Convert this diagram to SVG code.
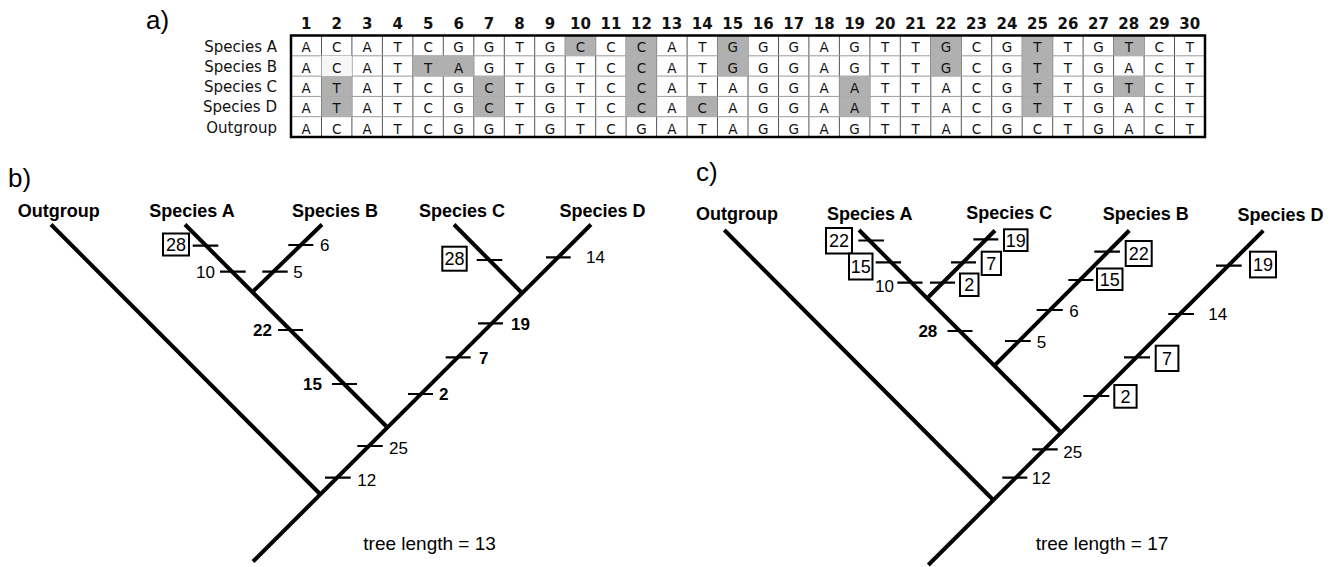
<svg xmlns="http://www.w3.org/2000/svg" width="1336" height="567" viewBox="0 0 1336 567">
<style>
.panel{font-family:"Liberation Sans",Arial,sans-serif;font-size:26px;fill:#000}
.colnum{font-family:"DejaVu Sans",sans-serif;font-size:15px;font-weight:bold;text-anchor:middle;fill:#111}
.cell{font-family:"DejaVu Sans",sans-serif;font-size:13.5px;text-anchor:middle;fill:#111}
.rowlab{font-family:"DejaVu Sans",sans-serif;font-size:15px;text-anchor:end;fill:#111}
.vline{stroke:#555;stroke-width:1}
.hline{stroke:#999;stroke-width:1}
.shade{fill:#b0b0b0}
.br{stroke:#000;stroke-width:4;fill:none;stroke-linecap:butt}
.tk{stroke:#000;stroke-width:2.2}
.sp{font-family:"Liberation Sans",Arial,sans-serif;font-size:18px;font-weight:bold;text-anchor:middle;fill:#000}
.n{font-family:"Liberation Sans",Arial,sans-serif;font-size:17px;fill:#000}
.nb{font-family:"Liberation Sans",Arial,sans-serif;font-size:17px;font-weight:bold;fill:#000}
.bx{fill:#fff;stroke:#000;stroke-width:2}
.bn{font-family:"Liberation Sans",Arial,sans-serif;font-size:18px;text-anchor:middle;fill:#000}
.tl{font-family:"Liberation Sans",Arial,sans-serif;font-size:19px;fill:#000}
</style>
<rect width="1336" height="567" fill="#fff"/>

<!-- Panel a: alignment table -->
<g id="panel-a">
<text class="panel" x="146" y="29">a)</text>
<g id="column-numbers">
<text class="colnum" x="306.2" y="29">1</text>
<text class="colnum" x="336.7" y="29">2</text>
<text class="colnum" x="367.2" y="29">3</text>
<text class="colnum" x="397.6" y="29">4</text>
<text class="colnum" x="428.1" y="29">5</text>
<text class="colnum" x="458.6" y="29">6</text>
<text class="colnum" x="489.0" y="29">7</text>
<text class="colnum" x="519.5" y="29">8</text>
<text class="colnum" x="550.0" y="29">9</text>
<text class="colnum" x="580.4" y="29">10</text>
<text class="colnum" x="610.9" y="29">11</text>
<text class="colnum" x="641.4" y="29">12</text>
<text class="colnum" x="671.8" y="29">13</text>
<text class="colnum" x="702.3" y="29">14</text>
<text class="colnum" x="732.8" y="29">15</text>
<text class="colnum" x="763.2" y="29">16</text>
<text class="colnum" x="793.7" y="29">17</text>
<text class="colnum" x="824.2" y="29">18</text>
<text class="colnum" x="854.6" y="29">19</text>
<text class="colnum" x="885.1" y="29">20</text>
<text class="colnum" x="915.6" y="29">21</text>
<text class="colnum" x="946.0" y="29">22</text>
<text class="colnum" x="976.5" y="29">23</text>
<text class="colnum" x="1007.0" y="29">24</text>
<text class="colnum" x="1037.4" y="29">25</text>
<text class="colnum" x="1067.9" y="29">26</text>
<text class="colnum" x="1098.4" y="29">27</text>
<text class="colnum" x="1128.8" y="29">28</text>
<text class="colnum" x="1159.3" y="29">29</text>
<text class="colnum" x="1189.8" y="29">30</text>
</g>
<g id="row-labels">
<text class="rowlab" x="277" y="51.5">Species A</text>
<text class="rowlab" x="277" y="71.8">Species B</text>
<text class="rowlab" x="277" y="92.1">Species C</text>
<text class="rowlab" x="277" y="112.4">Species D</text>
<text class="rowlab" x="277" y="132.7">Outgroup</text>
</g>
<g id="grid">
<path class="vline" d="M321.5 35.5V137M351.9 35.5V137M382.4 35.5V137M412.9 35.5V137M443.3 35.5V137M473.8 35.5V137M504.3 35.5V137M534.7 35.5V137M565.2 35.5V137M595.7 35.5V137M626.1 35.5V137M656.6 35.5V137M687.1 35.5V137M717.5 35.5V137M748 35.5V137M778.5 35.5V137M808.9 35.5V137M839.4 35.5V137M869.9 35.5V137M900.3 35.5V137M930.8 35.5V137M961.3 35.5V137M991.7 35.5V137M1022.2 35.5V137M1052.7 35.5V137M1083.1 35.5V137M1113.6 35.5V137M1144.1 35.5V137M1174.5 35.5V137"/>
<path class="hline" d="M291 55.8H1205M291 76.1H1205M291 96.4H1205M291 116.7H1205"/>
</g>
<g id="shading">
<!-- Species A -->
<rect class="shade" x="565.2" y="35.5" width="30.5" height="20.3"/>
<rect class="shade" x="626.1" y="35.5" width="30.5" height="20.3"/>
<rect class="shade" x="717.5" y="35.5" width="30.5" height="20.3"/>
<rect class="shade" x="930.8" y="35.5" width="30.5" height="20.3"/>
<rect class="shade" x="1022.2" y="35.5" width="30.5" height="20.3"/>
<rect class="shade" x="1113.6" y="35.5" width="30.5" height="20.3"/>
<!-- Species B -->
<rect x="321.5" y="55.8" width="30.4" height="20.3" fill="#f6f6f6"/>
<rect class="shade" x="412.9" y="55.8" width="60.9" height="20.3"/>
<rect class="shade" x="626.1" y="55.8" width="30.5" height="20.3"/>
<rect class="shade" x="717.5" y="55.8" width="30.5" height="20.3"/>
<rect class="shade" x="930.8" y="55.8" width="30.5" height="20.3"/>
<rect class="shade" x="1022.2" y="55.8" width="30.5" height="20.3"/>
<!-- Species C -->
<rect class="shade" x="321.5" y="76.1" width="30.4" height="20.3"/>
<rect class="shade" x="473.8" y="76.1" width="30.5" height="20.3"/>
<rect class="shade" x="626.1" y="76.1" width="30.5" height="20.3"/>
<rect class="shade" x="839.4" y="76.1" width="30.5" height="20.3"/>
<rect class="shade" x="1022.2" y="76.1" width="30.5" height="20.3"/>
<rect class="shade" x="1113.6" y="76.1" width="30.5" height="20.3"/>
<!-- Species D -->
<rect class="shade" x="321.5" y="96.4" width="30.4" height="20.3"/>
<rect class="shade" x="473.8" y="96.4" width="30.5" height="20.3"/>
<rect class="shade" x="626.1" y="96.4" width="30.5" height="20.3"/>
<rect class="shade" x="687.1" y="96.4" width="30.4" height="20.3"/>
<rect class="shade" x="839.4" y="96.4" width="30.5" height="20.3"/>
<rect class="shade" x="1022.2" y="96.4" width="30.5" height="20.3"/>
</g>
<rect x="291" y="35.5" width="914" height="101.5" fill="none" stroke="#000" stroke-width="2.5"/>
<g id="sequences">
<text class="cell" x="306.2 336.7 367.2 397.6 428.1 458.6 489.0 519.5 550.0 580.4 610.9 641.4 671.8 702.3 732.8 763.2 793.7 824.2 854.6 885.1 915.6 946.0 976.5 1007.0 1037.4 1067.9 1098.4 1128.8 1159.3 1189.8" y="52.3">ACATCGGTGCCCATGGGAGTTGCGTTGTCT</text>
<text class="cell" x="306.2 336.7 367.2 397.6 428.1 458.6 489.0 519.5 550.0 580.4 610.9 641.4 671.8 702.3 732.8 763.2 793.7 824.2 854.6 885.1 915.6 946.0 976.5 1007.0 1037.4 1067.9 1098.4 1128.8 1159.3 1189.8" y="72.6">ACATTAGTGTCCATGGGAGTTGCGTTGACT</text>
<text class="cell" x="306.2 336.7 367.2 397.6 428.1 458.6 489.0 519.5 550.0 580.4 610.9 641.4 671.8 702.3 732.8 763.2 793.7 824.2 854.6 885.1 915.6 946.0 976.5 1007.0 1037.4 1067.9 1098.4 1128.8 1159.3 1189.8" y="92.9">ATATCGCTGTCCATAGGAATTACGTTGTCT</text>
<text class="cell" x="306.2 336.7 367.2 397.6 428.1 458.6 489.0 519.5 550.0 580.4 610.9 641.4 671.8 702.3 732.8 763.2 793.7 824.2 854.6 885.1 915.6 946.0 976.5 1007.0 1037.4 1067.9 1098.4 1128.8 1159.3 1189.8" y="113.2">ATATCGCTGTCCACAGGAATTACGTTGACT</text>
<text class="cell" x="306.2 336.7 367.2 397.6 428.1 458.6 489.0 519.5 550.0 580.4 610.9 641.4 671.8 702.3 732.8 763.2 793.7 824.2 854.6 885.1 915.6 946.0 976.5 1007.0 1037.4 1067.9 1098.4 1128.8 1159.3 1189.8" y="133.5">ACATCGGTGTCGATAGGAGTTACGCTGACT</text>
</g>
</g>

<!-- Panel b -->
<g id="panel-b">
<text class="panel" x="8" y="187">b)</text>
<g id="b-connectors">
<path class="br" d="M253 561.5L591 224.5"/>
<path class="br" d="M51 224.5L320 494"/>
<path class="br" d="M387 427L185 224.5"/>
<path class="br" d="M252.5 292L322 224.5"/>
<path class="br" d="M521.5 292.5L454 224.5"/>
</g>
<g id="b-outgroup"><text class="sp" x="58.7" y="216.5">Outgroup</text></g>
<g id="b-species-a"><text class="sp" x="192" y="216.5">Species A</text></g>
<g id="b-species-b"><text class="sp" x="335" y="216.5">Species B</text></g>
<g id="b-species-c"><text class="sp" x="462" y="216.5">Species C</text></g>
<g id="b-species-d"><text class="sp" x="602.5" y="216.5">Species D</text></g>
<g id="b-changes">
<path class="tk" d="M192.7 245.7H218.3M220 271.7H245.7M288.3 245H313.3M262.3 271.7H287.7M278 330H303M332 384H357M408 394H433M445.7 357.3H470.7M478 323.3H503M476.7 260H502.3M546 257.3H570.7M357.3 446H382.7M325 477.7H350.7"/>
<rect class="bx" x="163" y="233.5" width="26" height="22"/>
<text class="bn" x="176" y="251">28</text>
<text class="n" x="215" y="277.5" text-anchor="end">10</text>
<text class="n" x="320" y="251">6</text>
<text class="n" x="293.3" y="278">5</text>
<text class="nb" x="272" y="336" text-anchor="end">22</text>
<text class="nb" x="303" y="390">15</text>
<text class="nb" x="439" y="400">2</text>
<text class="nb" x="479" y="363.5">7</text>
<text class="nb" x="511" y="329.5">19</text>
<rect class="bx" x="442.3" y="246.7" width="24.4" height="24"/>
<text class="bn" x="454.5" y="265">28</text>
<text class="n" x="586" y="262.5">14</text>
<text class="n" x="389" y="453.5">25</text>
<text class="n" x="357.3" y="486">12</text>
</g>
<text class="tl" x="363.3" y="550">tree length = 13</text>
</g>

<!-- Panel c -->
<g id="panel-c">
<text class="panel" x="696" y="181">c)</text>
<g id="c-connectors">
<path class="br" d="M928.3 565L1263.3 230.7"/>
<path class="br" d="M724.3 230L993.3 500"/>
<path class="br" d="M1061 432.5L859 230"/>
<path class="br" d="M995 365L1129.3 230.5"/>
<path class="br" d="M928.5 297L995 230.5"/>
</g>
<g id="c-outgroup"><text class="sp" x="737" y="219.5">Outgroup</text></g>
<g id="c-species-a"><text class="sp" x="869.7" y="219.5">Species A</text></g>
<g id="c-species-c"><text class="sp" x="1009.3" y="218.5">Species C</text></g>
<g id="c-species-b"><text class="sp" x="1145.8" y="219.5">Species B</text></g>
<g id="c-species-d"><text class="sp" x="1280.5" y="220.5">Species D</text></g>
<g id="c-changes">
<path class="tk" d="M858.3 240.5H884M875.7 262.3H901M897.3 282.7H922.5M973.3 239.3H998.3M951 262.3H976M930 282.7H955M947.5 331H972.5M1005 341H1030.7M1036.7 310H1062.7M1068.3 280H1093.3M1094.3 251.7H1120M1216 265.7H1241.7M1168.3 314H1194M1124 357.3H1150M1083.3 396H1109.3M1032.3 449.3H1057.7M1002.3 477.7H1027.3"/>
<rect class="bx" x="826" y="228" width="26" height="25.5"/>
<text class="bn" x="839" y="247">22</text>
<rect class="bx" x="849" y="253.5" width="23.5" height="26"/>
<text class="bn" x="860.7" y="273">15</text>
<text class="n" x="894" y="292" text-anchor="end">10</text>
<rect class="bx" x="1004" y="229.3" width="23.5" height="21.7"/>
<text class="bn" x="1015.7" y="246.5">19</text>
<rect class="bx" x="981.7" y="251.7" width="19.3" height="23.3"/>
<text class="bn" x="991.3" y="269.5">7</text>
<rect class="bx" x="960" y="273.5" width="18.5" height="22.5"/>
<text class="bn" x="969.2" y="291">2</text>
<text class="nb" x="937.3" y="337" text-anchor="end">28</text>
<text class="n" x="1036.7" y="348">5</text>
<text class="n" x="1069.3" y="317">6</text>
<rect class="bx" x="1097" y="268.5" width="25.5" height="21.5"/>
<text class="bn" x="1109.7" y="285.5">15</text>
<rect class="bx" x="1125.7" y="241" width="26" height="25"/>
<text class="bn" x="1138.7" y="259.7">22</text>
<rect class="bx" x="1250" y="251.7" width="26" height="25.7"/>
<text class="bn" x="1263" y="270.8">19</text>
<text class="n" x="1208.3" y="319.5">14</text>
<rect class="bx" x="1155.7" y="345.7" width="22.7" height="25.3"/>
<text class="bn" x="1167" y="364.5">7</text>
<rect class="bx" x="1114.3" y="385" width="22.3" height="22.7"/>
<text class="bn" x="1125.5" y="402.5">2</text>
<text class="n" x="1063.3" y="457.7">25</text>
<text class="n" x="1031.7" y="484.3">12</text>
</g>
<text class="tl" x="1035.7" y="550">tree length = 17</text>
</g>
</svg>
